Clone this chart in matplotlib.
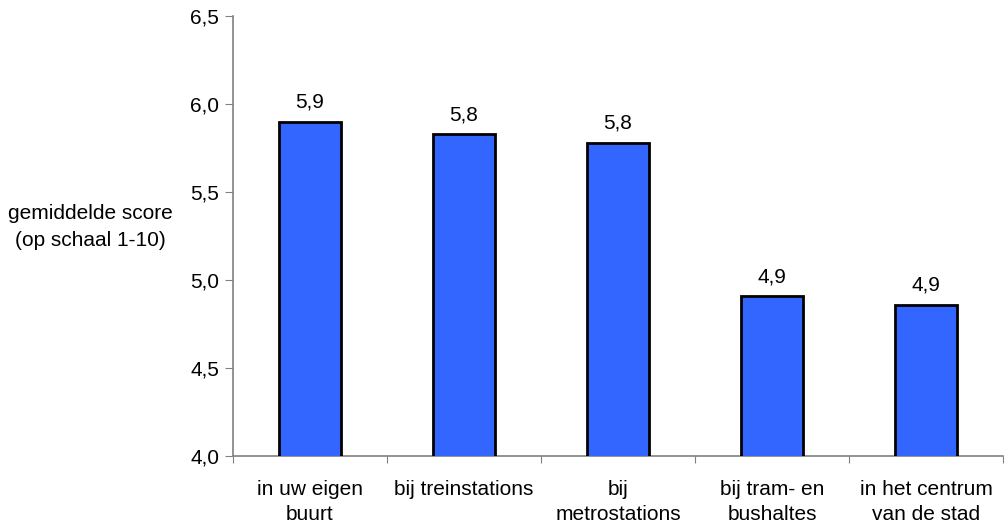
import matplotlib
matplotlib.use("Agg")
import matplotlib.pyplot as plt
import numpy as np

categories = ["in uw eigen\nbuurt", "bij treinstations", "bij\nmetrostations",
              "bij tram- en\nbushaltes", "in het centrum\nvan de stad"]
values = [5.90, 5.83, 5.78, 4.91, 4.86]
yticks = [4.0, 4.5, 5.0, 5.5, 6.0, 6.5]

plt.rcParams['font.family'] = ['Liberation Sans', 'DejaVu Sans']
fs = 15

fig = plt.figure(figsize=(10.05, 5.27), dpi=100)
ax = fig.add_axes([233/1005, 1-456/527, (1003-233)/1005, (456-16)/527])

x = np.arange(len(categories))
ax.bar(x, values, width=0.40, bottom=0, color='#3366FF', edgecolor='black', linewidth=2, zorder=3)
for xi, v in zip(x, values):
    ax.annotate(f"{v:.1f}".replace('.', ','), (xi, v), xytext=(0, 7), textcoords='offset points',
                ha='center', va='bottom', fontsize=fs)

ax.set_xlim(-0.5, len(categories) - 0.5)
ax.set_ylim(4.0, 6.5)
ax.set_yticks(yticks)
ax.set_yticklabels([f"{t:.1f}".replace('.', ',') for t in yticks], fontsize=fs)
ax.set_xticks(np.arange(-0.5, len(categories), 1.0))
ax.set_xticklabels([])
ax.set_xticks(x, minor=True)
ax.set_xticklabels(categories, minor=True, fontsize=fs, linespacing=1.45)
ax.tick_params(axis='x', which='minor', length=0, pad=17)
ax.tick_params(axis='x', which='major', length=5, color='#808080', direction='out')
ax.tick_params(axis='y', length=6, color='#808080', direction='out', pad=4)

for s in ['top', 'right']:
    ax.spines[s].set_visible(False)
for s in ['left', 'bottom']:
    ax.spines[s].set_color('#808080')
    ax.spines[s].set_linewidth(1.2)

fig.text(90/1005, 1-227/527, "gemiddelde score\n(op schaal 1-10)", ha='center', va='center',
         fontsize=fs, linespacing=1.5)

fig.savefig("out.png", dpi=100)
